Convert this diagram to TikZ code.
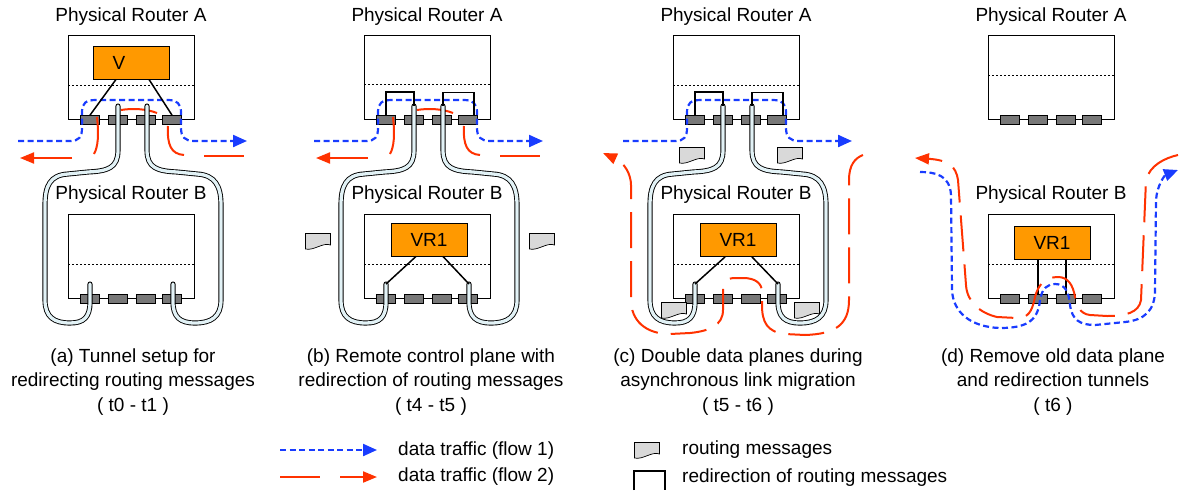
\documentclass[tikz,border=0pt]{standalone}
\usepackage{fontspec}
\setmainfont{Liberation Sans}
\usetikzlibrary{arrows.meta}

\definecolor{vrorange}{RGB}{255,153,0}
\definecolor{portgray}{RGB}{120,120,120}
\definecolor{msggray}{RGB}{217,217,217}
\definecolor{flowblue}{RGB}{25,60,255}
\definecolor{flowred}{RGB}{255,50,0}
\definecolor{tunnelfill}{RGB}{226,242,246}

\tikzset{
  txt/.style={font=\fontsize{19}{24.5}\selectfont, inner sep=0pt},
  router/.style={draw, line width=0.9pt, minimum width=126pt, minimum height=83.5pt, inner sep=0pt},
  divider/.style={line width=0.8pt, dash pattern=on 2pt off 2pt},
  port/.style={draw, fill=portgray, line width=0.7pt, minimum width=19pt, minimum height=9pt, inner sep=0pt},
  vr/.style={draw, fill=vrorange, line width=0.9pt, minimum width=76pt, minimum height=33pt, txt},
  link/.style={line width=1.5pt},
  redir/.style={line width=1.8pt},
  tunnel/.style={line width=0.9pt, double=tunnelfill, double distance=3.3pt, line cap=round},
  flowone/.style={draw=flowblue, line width=2.2pt, dash pattern=on 6pt off 3.5pt, -{Triangle[length=14pt,width=12pt]}},
  flowtwo/.style={draw=flowred, line width=2pt},
  redtip/.style={-{Triangle[length=14pt,width=11pt]}},
  longdash/.style={dash pattern=on 36pt off 13pt},
  msg/.pic={\draw[fill=msggray, line width=0.7pt] (-12.5,-7.5) -- (12.5,-7.5) -- (12.5,4) .. controls (5,1) and (-4,10) .. (-12.5,8) -- cycle;}
}

% both routers of one panel, #1 = prefix, #2 = divider of router A
\newcommand{\routers}[2]{%
  \node[txt] (#1tA) at (131,17) {Physical Router A};
  \node[router] (#1A) at (131,77.25) {};
  \draw[divider] (68,#2) -- (194,#2);
  \foreach \i/\x in {1/90,2/118,3/146,4/172}
    \node[port] (#1A\i) at (\x,120) {};
  \node[txt] (#1tB) at (131,195) {Physical Router B};
  \node[router] (#1B) at (131,256.5) {};
  \draw[divider] (68,264) -- (194,264);
  \foreach \i/\x in {1/90,2/118,3/146,4/172}
    \node[port] (#1B\i) at (\x,299) {};
}

\newcommand{\tunnels}[1]{%
  \coordinate (#1T1) at (118,106);
  \coordinate (#1T2) at (147,106);
  \coordinate (#1E1) at (90,284);
  \coordinate (#1E2) at (173,284);
  \draw[tunnel] (#1T1) -- (118,150) .. controls (118,168) and (108,171) .. (88,172) -- (68,174) .. controls (50,175) and (45,186) .. (45,205) -- (45,300) .. controls (45,317) and (54,323) .. (70,323) .. controls (84,323) and (90,317) .. (90,302) -- (#1E1);
  \draw[tunnel] (#1T2) -- (147,150) .. controls (147,168) and (157,171) .. (177,172) -- (197,174) .. controls (215,175) and (221,186) .. (221,205) -- (221,300) .. controls (221,317) and (211,323) .. (195,323) .. controls (180,323) and (173,317) .. (173,302) -- (#1E2);
}

\newcommand{\bluetop}{%
  \draw[flowone] (18,141) -- (70,141) .. controls (79,141) and (82,137) .. (82,128) -- (82,112) .. controls (82,103) and (86,100) .. (96,100) -- (168,100) .. controls (177,100) and (181,104) .. (181,112) -- (181,128) .. controls (181,137) and (185,141) .. (194,141) -- (247,141);
}

\newcommand{\redtop}{%
  \draw[flowtwo] (97,117) .. controls (99,135) and (98,147) .. (94,154);
  \draw[flowtwo] (121,110) .. controls (133,108) and (147,109) .. (157,113);
  \draw[flowtwo] (168,126) .. controls (167,145) and (171,154) .. (184,155);
  \draw[flowtwo] (204,156) -- (244,156);
  \draw[flowtwo,redtip] (72,158) -- (20,158);
}

\newcommand{\redirs}[1]{%
  \draw[redir] (#1A1.north) -- ++(0,-23) -| (#1T1);
  \draw[redir] (#1T2) -- ++(0,-13.5) -| ([xshift=6pt]#1A4.north);
}

\begin{document}
\begin{tikzpicture}[x=1pt,y=-1pt]
  \useasboundingbox (0,0) rectangle (1180,490);

  % (a)
  \begin{scope}
    \routers{a}{85}
    \node[vr] (aV) at (131,62.5) {V\phantom{R1}};
    \bluetop
    \redtop
    \tunnels{a}
    \draw[link] ([xshift=-15pt]aV.south) -- (aA1.north);
    \draw[link] ([xshift=18pt]aV.south) -- (aA4.north);
    \node[txt, align=center] (acap) at (133,382) {(a) Tunnel setup for\\redirecting routing messages\\( t0 - t1 )};
  \end{scope}

  % (b)
  \begin{scope}[xshift=296pt]
    \routers{b}{84}
    \node[vr] (bVR) at (133,239.5) {VR1};
    \pic at (22,241) {msg};
    \pic at (246,241) {msg};
    \bluetop
    \redtop
    \tunnels{b}
    \redirs{b}
    \draw[link] ([xshift=-13pt]bVR.south) -- (bE1);
    \draw[link] ([xshift=14pt]bVR.south) -- (bE2);
    \node[txt, align=center] (bcap) at (135,382) {(b) Remote control plane with\\redirection of routing messages\\( t4 - t5 )};
  \end{scope}

  % (c)
  \begin{scope}[xshift=605pt]
    \routers{c}{85}
    \node[vr] (cVR) at (133,240) {VR1};
    \pic at (87,155) {msg};
    \pic at (185,155) {msg};
    \pic at (69,310) {msg};
    \pic at (202,310) {msg};
    \bluetop
    \draw[flowtwo, longdash, redtip] (258,155) .. controls (250,158) and (244,165) .. (244,180) -- (244,300) .. controls (244,325) and (230,334) .. (200,335) -- (180,334) .. controls (162,332) and (157,322) .. (157,305) -- (157,292) .. controls (157,283) and (150,278) .. (138,278) -- (128,278) .. controls (122,278) and (118,283) .. (118,292) -- (118,310) .. controls (118,325) and (105,331) .. (85,333) -- (65,334) .. controls (40,334) and (26,320) .. (26,300) -- (26,185) .. controls (26,175) and (20,163) .. (-2,153);
    \tunnels{c}
    \redirs{c}
    \draw[link] ([xshift=-13pt]cVR.south) -- (cE1);
    \draw[link] ([xshift=14pt]cVR.south) -- (cE2);
    \node[txt, align=center] (ccap) at (133,382) {(c) Double data planes during\\asynchronous link migration\\( t5 - t6 )};
  \end{scope}

  % (d)
  \begin{scope}[xshift=920pt]
    \routers{d}{75}
    \node[vr] (dVR) at (132,242.5) {VR1};
    \draw[link] (dVR.south -| dB2) -- (dB2.north);
    \draw[link] (dVR.south -| dB3) -- (dB3.north);
    \draw[flowtwo, longdash, redtip] (258,155) .. controls (245,158) and (230,165) .. (226,180) -- (221,300) .. controls (219,313) and (205,316) .. (187,316) -- (170,315) .. controls (160,314) and (156,305) .. (155,297) .. controls (153,285) and (148,277) .. (138,277) .. controls (125,277) and (118,285) .. (115,297) .. controls (112,312) and (108,318) .. (97,318) -- (77,317) .. controls (60,313) and (47,302) .. (46,285) -- (38,180) .. controls (36,166) and (28,160) .. (-5,158);
    \draw[flowone] (0,172) .. controls (15,172) and (30,175) .. (31,195) -- (32,290) .. controls (33,312) and (50,327) .. (80,328) .. controls (105,328) and (118,322) .. (120,300) .. controls (122,288) and (128,284) .. (135,284) .. controls (145,284) and (149,292) .. (150,305) .. controls (152,320) and (160,325) .. (175,325) -- (205,322) .. controls (225,320) and (235,310) .. (235,290) -- (236,200) .. controls (237,185) and (245,175) .. (258,170);
    \node[txt, align=center] (dcap) at (133,382) {(d) Remove old data plane\\and redirection tunnels\\( t6 )};
  \end{scope}

  % legend
  \draw[flowone] (280,450) -- (377,450);
  \draw[flowtwo] (280,477) -- (320,477);
  \draw[flowtwo,redtip] (340,477) -- (377,477);
  \node[txt, anchor=west] (lgone) at (398,451) {data traffic (flow 1)};
  \node[txt, anchor=west] (lgtwo) at (398,477) {data traffic (flow 2)};
  \pic at (647,450) {msg};
  \node[txt, anchor=west] (lgmsg) at (682,450) {routing messages};
  \draw[redir] (634,490) -- (634,471) -- (665,471) -- (665,490);
  \node[txt, anchor=west] (lgredir) at (682,478) {redirection of routing messages};
\end{tikzpicture}
\end{document}
